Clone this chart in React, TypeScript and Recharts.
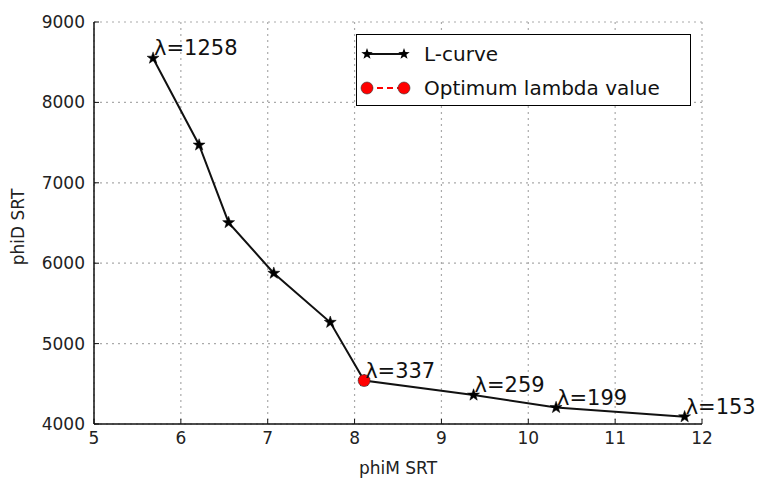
import {
  ComposedChart,
  Line,
  XAxis,
  YAxis,
  CartesianGrid,
  Legend,
  LabelList,
} from 'recharts';

// L-curve points (phiM vs phiD) and the regularisation value at each
const phiM = [5.68, 6.21, 6.55, 7.07, 7.72, 8.11, 9.37, 10.32, 11.8];
const phiD = [8550, 7470, 6505, 5875, 5265, 4540, 4360, 4205, 4090];
const lambdaLabels = ['1258', '', '', '', '', '337', '259', '199', '153'];

// chosen lambda
const optimumPhiM = [8.11];
const optimumPhiD = [4540];

const xTicks = [5, 6, 7, 8, 9, 10, 11, 12];
const yTicks = [4000, 5000, 6000, 7000, 8000, 9000];

const FONT = '"DejaVu Sans", Verdana, sans-serif';

const curveData = phiM.map((x, i) => ({ x, y: phiD[i], label: lambdaLabels[i] }));
const optimumData = optimumPhiM.map((x, i) => ({ x, y: optimumPhiD[i] }));

function starPath(cx: number, cy: number, r: number) {
  const pts: string[] = [];
  for (let i = 0; i < 10; i++) {
    const rad = i % 2 === 0 ? r : r * 0.4;
    const a = -Math.PI / 2 + (i * Math.PI) / 5;
    pts.push(`${cx + rad * Math.cos(a)},${cy + rad * Math.sin(a)}`);
  }
  return `M${pts.join('L')}Z`;
}

const StarDot = (props: any) => {
  const { cx, cy, index } = props;
  if (cx == null || cy == null) return <g key={index} />;
  return <path key={index} d={starPath(cx, cy, 6.3)} fill="#000" stroke="#000" strokeWidth={0.5} />;
};

const RedDot = (props: any) => {
  const { cx, cy, index } = props;
  if (cx == null || cy == null) return <g key={index} />;
  return <circle key={index} cx={cx} cy={cy} r={6} fill="#ff0000" stroke="#333" strokeWidth={0.6} />;
};

const LambdaLabel = (props: any) => {
  const { x, y, value } = props;
  if (!value) return null;
  return (
    <text x={x + 1} y={y - 3} fontSize={21} fontFamily={FONT} fill="#111" textAnchor="start">
      {`λ=${value}`}
    </text>
  );
};

const LegendBox = () => (
  <div
    style={{
      width: 335,
      height: 72,
      border: '1.5px solid #000',
      background: '#fff',
      fontFamily: FONT,
      fontSize: 20,
      color: '#111',
      boxSizing: 'border-box',
    }}
  >
    <div style={{ display: 'flex', alignItems: 'center', height: 36, marginTop: 1 }}>
      <svg width={67} height={20} style={{ flex: 'none' }}>
        <line x1={10} y1={10} x2={47} y2={10} stroke="#111" strokeWidth={1.8} />
        <path d={starPath(10, 10, 6)} fill="#000" />
        <path d={starPath(47, 10, 6)} fill="#000" />
      </svg>
      <span>L-curve</span>
    </div>
    <div style={{ display: 'flex', alignItems: 'center', height: 32 }}>
      <svg width={67} height={20} style={{ flex: 'none' }}>
        <line x1={10} y1={10} x2={47} y2={10} stroke="#ff0000" strokeWidth={1.8} strokeDasharray="6 4" />
        <circle cx={10} cy={10} r={6} fill="#ff0000" stroke="#333" strokeWidth={0.6} />
        <circle cx={47} cy={10} r={6} fill="#ff0000" stroke="#333" strokeWidth={0.6} />
      </svg>
      <span>Optimum lambda value</span>
    </div>
  </div>
);

export default function App() {
  return (
    <div style={{ position: 'absolute', left: 0, top: 0, width: 767, height: 481, background: '#fff' }}>
      <ComposedChart
        width={767}
        height={481}
        margin={{ top: 22, right: 65, bottom: 0, left: 0 }}
        style={{ fontFamily: FONT }}
      >
        <CartesianGrid stroke="#aaa" strokeDasharray="2 4" strokeWidth={1.2} />
        <XAxis
          dataKey="x"
          type="number"
          domain={[5, 12]}
          ticks={xTicks}
          interval={0}
          height={57}
          tickSize={-5}
          tickMargin={13}
          axisLine={{ stroke: '#111', strokeWidth: 1.5 }}
          tickLine={{ stroke: '#111' }}
          tick={{ fill: '#222', fontSize: 17, fontFamily: FONT }}
          label={{ value: 'phiM SRT', position: 'insideBottom', offset: 7, fill: '#222', fontSize: 17, fontFamily: FONT }}
        />
        <XAxis
          xAxisId="top"
          orientation="top"
          type="number"
          domain={[5, 12]}
          ticks={xTicks}
          interval={0}
          height={0}
          tickSize={-5}
          tick={false}
          axisLine={{ stroke: '#111', strokeWidth: 1.5 }}
          tickLine={{ stroke: '#111' }}
        />
        <YAxis
          type="number"
          domain={[4000, 9000]}
          ticks={yTicks}
          interval={0}
          width={94}
          tickSize={-5}
          tickMargin={14}
          axisLine={{ stroke: '#111', strokeWidth: 1.5 }}
          tickLine={{ stroke: '#111' }}
          tick={{ fill: '#222', fontSize: 17, fontFamily: FONT }}
          label={(props: any) => {
            const vb = props.viewBox;
            const cx = vb.x + 18;
            const cy = vb.y + vb.height / 2 + 4;
            return (
              <text
                x={cx}
                y={cy}
                transform={`rotate(-90 ${cx} ${cy})`}
                textAnchor="middle"
                dominantBaseline="central"
                fontSize={17}
                fontFamily={FONT}
                fill="#222"
              >
                phiD SRT
              </text>
            );
          }}
        />
        <YAxis
          yAxisId="right"
          orientation="right"
          type="number"
          domain={[4000, 9000]}
          ticks={yTicks}
          interval={0}
          width={0}
          tickSize={-5}
          tick={false}
          axisLine={{ stroke: '#111', strokeWidth: 1.5 }}
          tickLine={{ stroke: '#111' }}
        />
        <Line
          data={curveData}
          dataKey="y"
          name="L-curve"
          stroke="#111"
          strokeWidth={2}
          dot={StarDot}
          activeDot={false}
          isAnimationActive={false}
        >
          <LabelList dataKey="label" content={LambdaLabel} />
        </Line>
        <Line
          data={optimumData}
          dataKey="y"
          name="Optimum lambda value"
          stroke="#ff0000"
          strokeDasharray="6 4"
          dot={RedDot}
          activeDot={false}
          isAnimationActive={false}
        />
        <Legend
          layout="vertical"
          align="center"
          verticalAlign="middle"
          content={() => <LegendBox />}
          wrapperStyle={{ left: 356, top: 34, width: 335, height: 72 }}
        />
      </ComposedChart>
    </div>
  );
}
